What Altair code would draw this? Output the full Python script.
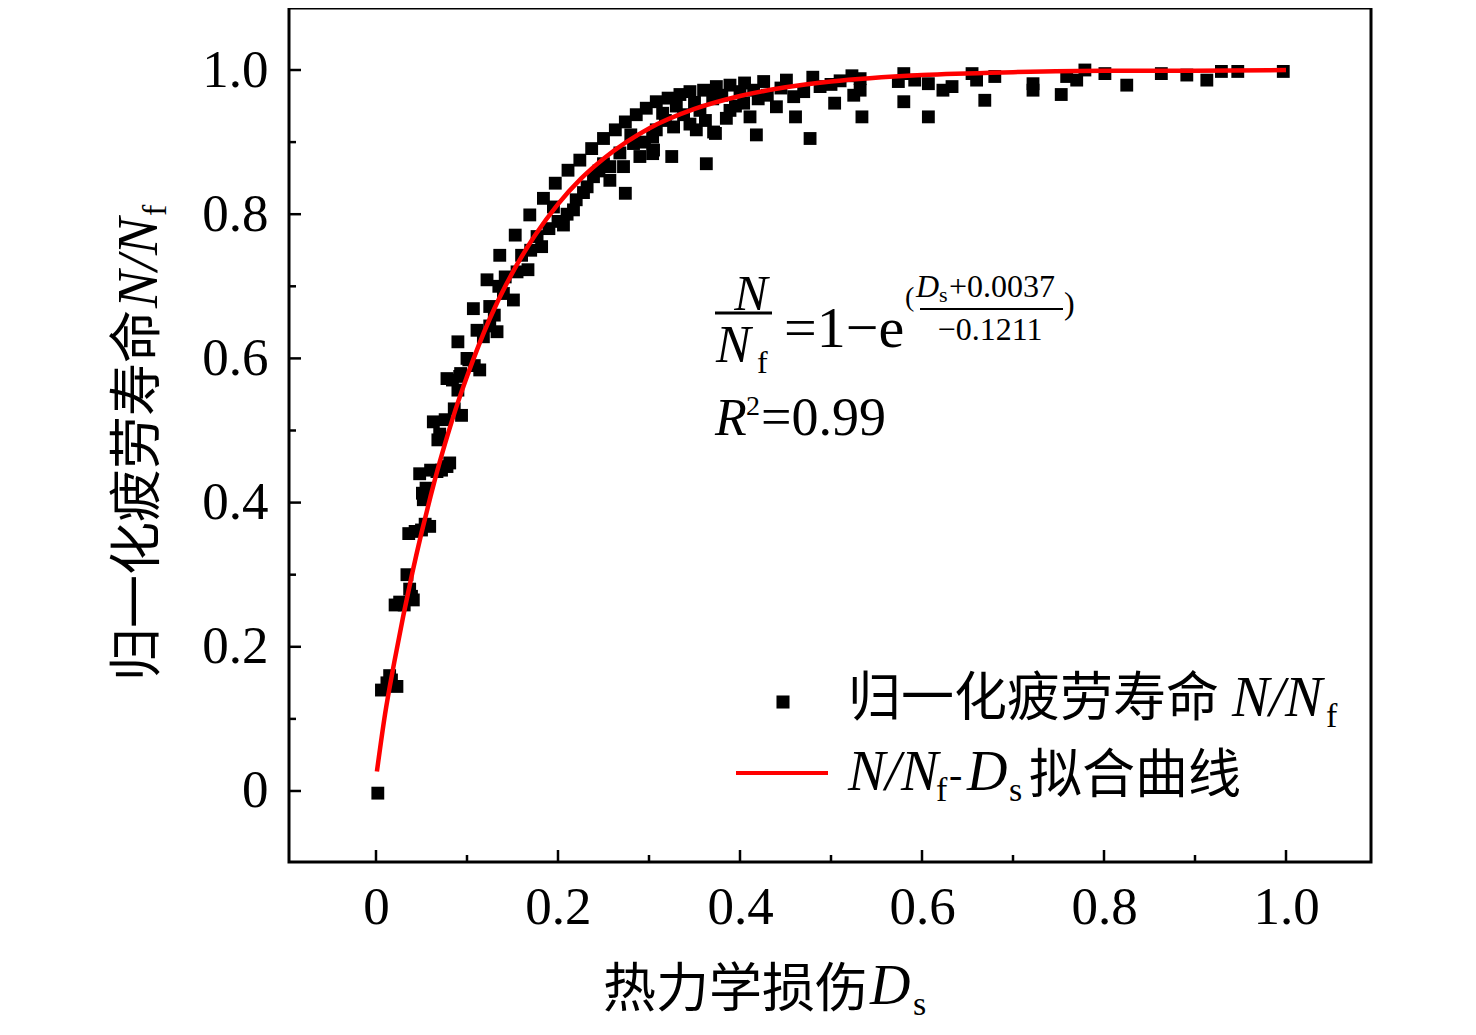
import altair as alt
import pandas as pd

# scatter: thermo-mechanical damage Ds vs normalised fatigue life N/Nf
ds = [
    0.002,
    0.006, 0.012, 0.017, 0.023, 0.015,
    0.021, 0.026, 0.031, 0.034, 0.037, 0.041, 0.039,
    0.036, 0.043, 0.050, 0.054, 0.059,
    0.048, 0.051, 0.052, 0.055,
    0.060, 0.067, 0.072, 0.078, 0.081,
    0.063, 0.068, 0.070, 0.076, 0.086, 0.094,
    0.078, 0.084, 0.090, 0.092, 0.093, 0.100, 0.102, 0.090, 0.108, 0.114,
    0.111, 0.118, 0.125, 0.133, 0.107, 0.125, 0.130, 0.140, 0.151,
    0.122, 0.135, 0.142, 0.155, 0.167, 0.136, 0.160, 0.170, 0.182,
    0.153, 0.177, 0.190, 0.200, 0.169, 0.195, 0.206, 0.210, 0.217,
    0.184, 0.197, 0.220, 0.228, 0.232, 0.211, 0.224, 0.239, 0.245, 0.250, 0.257, 0.257, 0.274,
    0.237, 0.250, 0.263, 0.274, 0.286, 0.297, 0.268, 0.272, 0.280, 0.283, 0.290, 0.295, 0.304, 0.304, 0.325,
    0.308, 0.321, 0.334, 0.345, 0.360, 0.374, 0.389, 0.405, 0.426, 0.451, 0.480, 0.523,
    0.305, 0.308, 0.315, 0.318, 0.327, 0.330, 0.338, 0.345, 0.350, 0.352,
    0.356, 0.362, 0.363, 0.370, 0.371, 0.373, 0.380, 0.385, 0.389, 0.395,
    0.400, 0.404, 0.411, 0.415, 0.418, 0.420, 0.430, 0.440, 0.445, 0.459,
    0.461, 0.470, 0.477, 0.488, 0.500, 0.504, 0.510, 0.525, 0.532, 0.532, 0.534,
    0.574, 0.580, 0.580, 0.592, 0.607, 0.607, 0.623, 0.633, 0.655, 0.660,
    0.669, 0.680, 0.722, 0.722, 0.753, 0.759, 0.770, 0.779, 0.801, 0.825,
    0.863, 0.891, 0.913, 0.929, 0.947, 0.997,
]
nnf = [
    -0.003,
    0.140, 0.150, 0.154, 0.145, 0.160,
    0.258, 0.262, 0.258, 0.300, 0.280, 0.265, 0.270,
    0.357, 0.360, 0.362, 0.370, 0.367,
    0.440, 0.413, 0.404, 0.420,
    0.445, 0.443, 0.445, 0.450, 0.455,
    0.512, 0.487, 0.495, 0.515, 0.530, 0.521,
    0.572, 0.570, 0.556, 0.575, 0.579, 0.600, 0.598, 0.623, 0.590, 0.584,
    0.639, 0.630, 0.645, 0.637, 0.669, 0.672, 0.660, 0.690, 0.681,
    0.709, 0.700, 0.713, 0.720, 0.723, 0.743, 0.743, 0.750, 0.755,
    0.771, 0.769, 0.780, 0.790, 0.799, 0.810, 0.785, 0.800, 0.806,
    0.822, 0.843, 0.820, 0.830, 0.838, 0.861, 0.875, 0.852, 0.860, 0.870, 0.847, 0.866, 0.829,
    0.891, 0.905, 0.917, 0.928, 0.938, 0.947, 0.885, 0.866, 0.910, 0.898, 0.880, 0.900, 0.884, 0.907, 0.880,
    0.956, 0.961, 0.966, 0.970, 0.972, 0.977, 0.979, 0.982, 0.984, 0.986, 0.990, 0.992,
    0.889, 0.917, 0.940, 0.930, 0.921, 0.950, 0.938, 0.925, 0.955, 0.917,
    0.944, 0.930, 0.870, 0.960, 0.914, 0.912, 0.965, 0.933, 0.944, 0.950,
    0.970, 0.954, 0.935, 0.972, 0.910, 0.960, 0.965, 0.949, 0.975, 0.963,
    0.935, 0.970, 0.905, 0.977, 0.980, 0.954, 0.985, 0.965, 0.988, 0.972, 0.935,
    0.984, 0.995, 0.956, 0.986, 0.981, 0.935, 0.972, 0.977, 0.995, 0.986,
    0.958, 0.991, 0.981, 0.972, 0.966, 0.991, 0.986, 1.000, 0.995, 0.979,
    0.995, 0.993, 0.986, 0.998, 0.998, 0.998,
]

# fitted curve
fit_ds = [0.001, 0.01, 0.02, 0.03, 0.04, 0.05, 0.06, 0.07, 0.08, 0.09, 0.10, 0.125, 0.15,
          0.175, 0.20, 0.225, 0.25, 0.275, 0.30, 0.35, 0.40, 0.45, 0.50, 0.60, 0.70, 0.80,
          0.90, 1.00]
fit_nnf = [0.027, 0.107, 0.178, 0.243, 0.303, 0.358, 0.409, 0.456, 0.499, 0.539, 0.575, 0.655,
           0.719, 0.771, 0.814, 0.849, 0.877, 0.900, 0.919, 0.946, 0.964, 0.976, 0.984, 0.993,
           0.997, 0.999, 0.999, 1.000]

major_ticks = [0, 0.2, 0.4, 0.6, 0.8, 1.0]
minor_ticks = [0.1, 0.3, 0.5, 0.7, 0.9]

W, H = 1082, 854
X0, Y0 = 289, 8  # page position of the plot area's top-left corner

SERIF = "Liberation Serif"
CJK = "Noto Sans CJK SC"

xs = alt.Scale(domain=[-0.0956, 1.0934], nice=False, zero=False)
ys = alt.Scale(domain=[-0.0985, 1.086], nice=False, zero=False)

lab = "datum.value == 0 ? '0' : format(datum.value, '.1f')"
x_axis = alt.Axis(values=major_ticks, labelExpr=lab, grid=False, domain=False, ticks=False,
                  tickSize=0, labelFont=SERIF, labelFontSize=53, labelColor="black",
                  labelPadding=19, labelFlush=False, title=None)
y_axis = alt.Axis(values=major_ticks, labelExpr=lab, grid=False, domain=False, ticks=False,
                  tickSize=0, labelFont=SERIF, labelFontSize=53, labelColor="black",
                  labelPadding=21, labelFlush=False, title=None)

pts = pd.DataFrame({"Ds": ds, "NNf": nnf})
fit = pd.DataFrame({"Ds": fit_ds, "NNf": fit_nnf})
one = pd.DataFrame({"k": [0]})

scatter = alt.Chart(pts).mark_square(size=165, color="black", opacity=1).encode(
    x=alt.X("Ds:Q", scale=xs, axis=x_axis),
    y=alt.Y("NNf:Q", scale=ys, axis=y_axis),
)
curve = alt.Chart(fit).mark_line(color="#ff0000", strokeWidth=4.5, interpolate="monotone").encode(
    x=alt.X("Ds:Q", scale=xs, axis=x_axis),
    y=alt.Y("NNf:Q", scale=ys, axis=y_axis),
)


def yticks(vals, length):
    return alt.Chart(pd.DataFrame({"v": vals})).mark_rule(color="black", strokeWidth=2.5).encode(
        y=alt.Y("v:Q", scale=ys, axis=y_axis), x=alt.value(0), x2=alt.value(length))


def xticks(vals, length):
    return alt.Chart(pd.DataFrame({"v": vals})).mark_rule(color="black", strokeWidth=2.5).encode(
        x=alt.X("v:Q", scale=xs, axis=x_axis), y=alt.value(H), y2=alt.value(H - length))


def txt(s, x, y, size, font=SERIF, italic=False, angle=0, align="left", baseline="alphabetic"):
    kw = dict(text=s, font=font, fontSize=size, color="black", align=align,
              baseline=baseline, angle=angle)
    if italic:
        kw["fontStyle"] = "italic"
    return alt.Chart(one).mark_text(**kw).encode(x=alt.value(x - X0), y=alt.value(y - Y0))


def hbar(x1, x2, y, width, color="black"):
    return alt.Chart(one).mark_rule(color=color, strokeWidth=width).encode(
        x=alt.value(x1 - X0), x2=alt.value(x2 - X0), y=alt.value(y - Y0))


annotations = [
    # equation
    txt("N", 751, 310, 50, italic=True, align="center"),
    hbar(715, 772, 313, 3),
    txt("N", 716, 362, 52, italic=True),
    txt("f", 757, 373, 32),
    txt("=1\u2212e", 784, 347, 58),
    txt("(", 905, 306, 28),
    txt("D", 916, 297, 32, italic=True),
    txt("s", 939, 302, 22),
    txt("+0.0037", 949, 297, 32),
    hbar(920, 1063, 309, 2),
    txt("\u22120.1211", 990, 340, 32, align="center"),
    txt(")", 1064, 314, 32),
    txt("R", 715, 435, 52, italic=True),
    txt("2", 746, 415, 28),
    txt("=0.99", 761, 435, 54),
    # legend
    alt.Chart(one).mark_square(size=170, color="black", opacity=1).encode(
        x=alt.value(783 - X0), y=alt.value(702 - Y0)),
    txt("归一化疲劳寿命", 848, 716, 53, font=CJK),
    txt("N/N", 1232, 716, 56, italic=True),
    txt("f", 1326, 727, 34),
    hbar(736, 828, 773, 4, color="#ff0000"),
    txt("N/N", 848, 790, 56, italic=True),
    txt("f", 936, 801, 34),
    txt("-", 949, 788, 40),
    txt("D", 967, 790, 56, italic=True),
    txt("s", 1009, 801, 34),
    txt("拟合曲线", 1029, 793, 53, font=CJK),
    # x title
    txt("热力学损伤", 603, 1007, 53, font=CJK),
    txt("D", 870, 1004, 56, italic=True),
    txt("s", 913, 1015, 34),
    # y title (rotated)
    txt("归一化疲劳寿命", 155, 681, 53, font=CJK, angle=270),
    txt("N/N", 157, 308, 56, italic=True, angle=270),
    txt("f", 166, 216, 34, angle=270),
]

chart = alt.layer(
    scatter, curve,
    yticks(major_ticks, 12), yticks(minor_ticks, 7),
    xticks(major_ticks, 12), xticks(minor_ticks, 7),
    *annotations,
).properties(
    width=W, height=H,
    autosize=alt.AutoSizeParams(type="none"),
    padding={"left": X0 - 8, "top": 0, "right": 60, "bottom": 160},
    background="white",
).configure_view(stroke="black", strokeWidth=3)

chart.save("out.html", embed_options={"renderer": "svg", "actions": False})
